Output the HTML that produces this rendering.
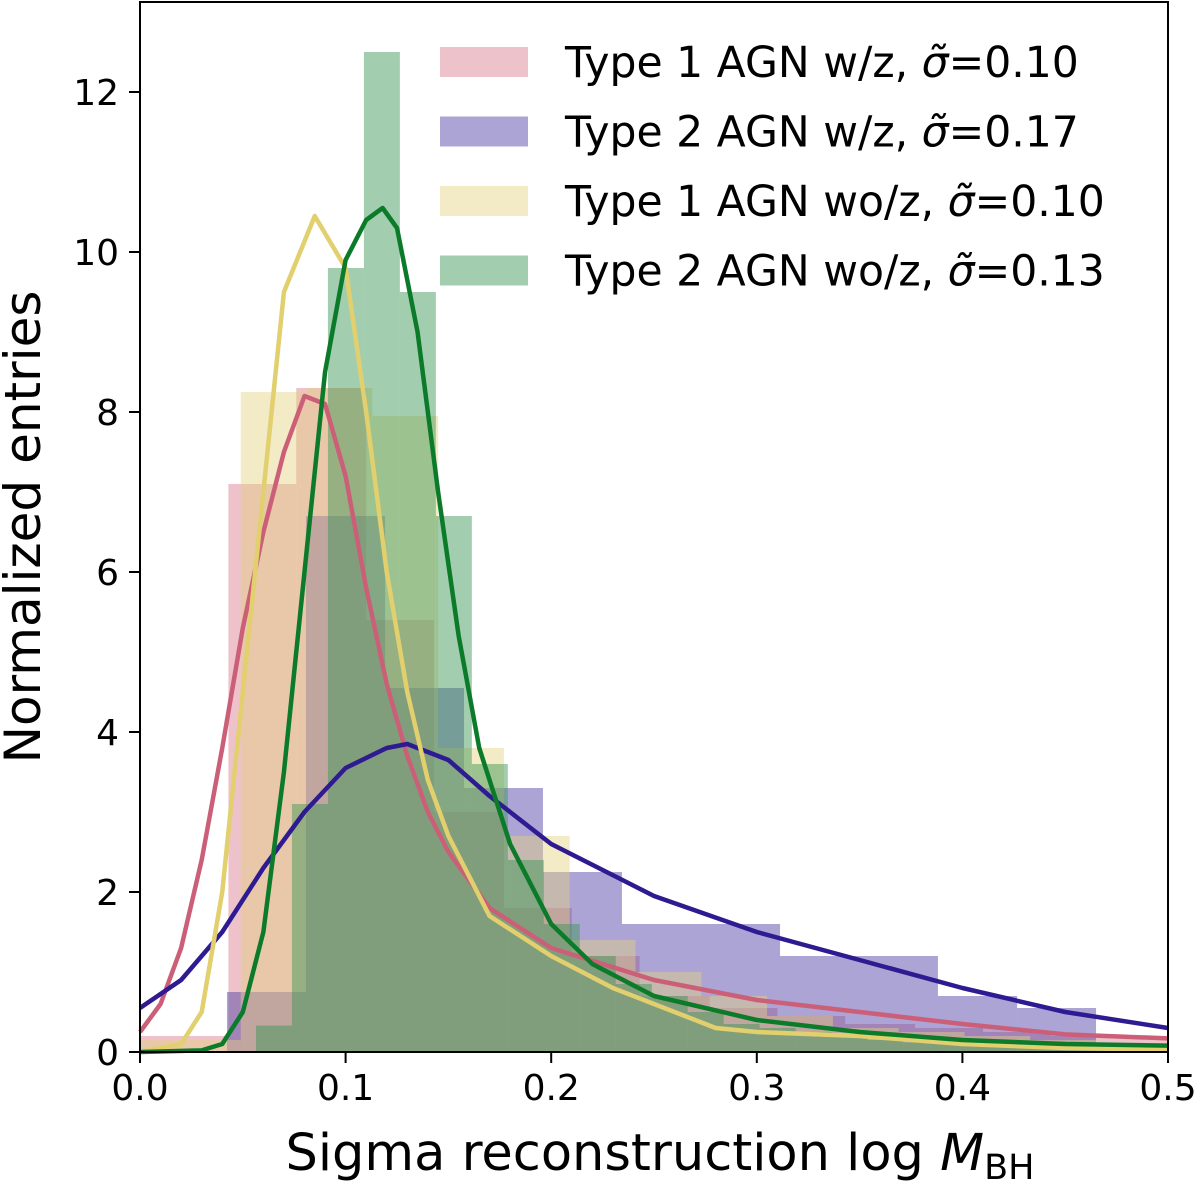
<!DOCTYPE html>
<html><head><meta charset="utf-8"><style>
body{margin:0;background:#fff;}
svg{display:block;font-family:"DejaVu Sans","Liberation Sans",sans-serif;}
</style></head><body>
<svg id="chart" width="1200" height="1185" xmlns="http://www.w3.org/2000/svg">
<g id="bars"></g>
<g id="lines"></g>
<rect x="140" y="2" width="1028" height="1050" fill="none" stroke="#000" stroke-width="2"/>
<g id="axes"></g>
<g id="legend"></g>
<text transform="translate(40,527) rotate(-90)" text-anchor="middle" font-size="50">Normalized entries</text>
<text x="660" y="1170" text-anchor="middle" font-size="51">Sigma reconstruction log <tspan font-style="italic">M</tspan><tspan font-size="35" dy="9">BH</tspan></text>
</svg>
<script>
const xTicks=[0.0,0.1,0.2,0.3,0.4,0.5];
const xTickLabels=["0.0","0.1","0.2","0.3","0.4","0.5"];
const yTicks=[0,2,4,6,8,10,12];
const legendLabels=["Type 1 AGN w/z, ","Type 2 AGN w/z, ","Type 1 AGN wo/z, ","Type 2 AGN wo/z, "];
const legendSigmas=["=0.10","=0.17","=0.10","=0.13"];
// histograms: edges and heights
const t1wzEdges=[0.0,0.043,0.076,0.11,0.143,0.177,0.21,0.243,0.277,0.31,0.343,0.377,0.41,0.443,0.477,0.5];
const t1wzHeights=[0.2,7.1,8.3,5.4,3.0,1.8,1.2,0.7,0.55,0.45,0.35,0.3,0.25,0.2,0.18];
const t2wzEdges=[0.0423,0.0807,0.1192,0.1576,0.196,0.2344,0.2729,0.3113,0.3497,0.3881,0.4266,0.465];
const t2wzHeights=[0.75,6.7,4.55,3.3,2.25,1.6,1.6,1.2,1.2,0.7,0.55];
const t1wozEdges=[0.0,0.049,0.081,0.113,0.145,0.177,0.209,0.241,0.273,0.305,0.337,0.369,0.401,0.433,0.465,0.5];
const t1wozHeights=[0.15,8.25,8.3,7.95,3.8,2.7,1.4,1.0,0.7,0.45,0.3,0.25,0.2,0.15,0.1];
const t2wozEdges=[0.0564,0.0739,0.0914,0.1089,0.1264,0.1439,0.1614,0.1789,0.1964,0.2139,0.2314,0.2489,0.2664,0.2839,0.3014,0.3189,0.3364,0.3539,0.3714,0.3889,0.4064,0.4239,0.4414,0.4589,0.4764,0.5];
const t2wozHeights=[0.33,3.1,9.8,12.5,9.5,6.7,3.6,2.4,1.6,1.2,0.85,0.7,0.5,0.35,0.3,0.25,0.2,0.15,0.12,0.1,0.1,0.08,0.08,0.07,0.07];
// curves
const t1wzCurveX=[0,0.01,0.02,0.03,0.04,0.05,0.06,0.07,0.08,0.09,0.1,0.11,0.12,0.13,0.14,0.15,0.17,0.2,0.25,0.3,0.35,0.4,0.45,0.5];
const t1wzCurveY=[0.25,0.6,1.3,2.4,3.8,5.3,6.5,7.5,8.2,8.1,7.2,5.8,4.6,3.7,3.0,2.5,1.8,1.3,0.9,0.65,0.5,0.35,0.22,0.17];
const t2wzCurveX=[0,0.02,0.04,0.06,0.08,0.1,0.12,0.13,0.15,0.17,0.2,0.25,0.3,0.35,0.4,0.45,0.5];
const t2wzCurveY=[0.55,0.9,1.5,2.3,3.0,3.55,3.8,3.85,3.65,3.2,2.6,1.95,1.5,1.15,0.8,0.5,0.3];
const t1wozCurveX=[0,0.02,0.03,0.04,0.05,0.06,0.07,0.085,0.1,0.11,0.12,0.13,0.14,0.15,0.17,0.2,0.23,0.25,0.28,0.3,0.35,0.4,0.45,0.5];
const t1wozCurveY=[0,0.1,0.5,2,4.5,7,9.5,10.45,9.8,8,6,4.5,3.4,2.7,1.7,1.2,0.8,0.6,0.3,0.25,0.2,0.1,0.05,0.03];
const t2wozCurveX=[0,0.03,0.04,0.05,0.06,0.07,0.08,0.09,0.1,0.11,0.118,0.125,0.135,0.145,0.155,0.165,0.18,0.2,0.22,0.25,0.3,0.35,0.4,0.45,0.5];
const t2wozCurveY=[0,0.02,0.1,0.5,1.5,3.5,6,8.5,9.9,10.4,10.55,10.3,9,7,5.2,3.8,2.6,1.6,1.1,0.7,0.4,0.25,0.15,0.1,0.08];

const NS="http://www.w3.org/2000/svg";
const X=v=>140+v*2056, Y=v=>1052-v*80;
function mk(tag,parent){const e=document.createElementNS(NS,tag);parent.appendChild(e);return e;}
const bars=document.getElementById('bars'), lines=document.getElementById('lines'), axes=document.getElementById('axes'), legend=document.getElementById('legend');
function hist(edges,h,fill,name){
  const g=mk('g',bars);
  
  
  for(let i=0;i<h.length;i++){
    const r=mk('rect',g);
    
    
    r.setAttribute('x',X(edges[i]));r.setAttribute('width',X(edges[i+1])-X(edges[i]));
    r.setAttribute('y',Y(h[i]));r.setAttribute('height',Y(0)-Y(h[i]));
    r.setAttribute('fill',fill);
  }
}
hist(t1wzEdges,t1wzHeights,'rgba(214,120,140,0.45)','hist-type1-wz');
hist(t2wzEdges,t2wzHeights,'rgba(80,65,165,0.48)','hist-type2-wz');
hist(t1wozEdges,t1wozHeights,'rgba(228,208,128,0.45)','hist-type1-woz');
hist(t2wozEdges,t2wozHeights,'rgba(60,150,85,0.48)','hist-type2-woz');
function curve(xs,ys,color,name){
  const p=mk('polyline',lines);
  
  
  p.setAttribute('points',xs.map((x,i)=>X(x)+','+Y(ys[i])).join(' '));
  p.setAttribute('fill','none');p.setAttribute('stroke',color);p.setAttribute('stroke-width','4.5');p.setAttribute('stroke-linejoin','round');
}
curve(t1wzCurveX,t1wzCurveY,'#cc5f78','curve-type1-wz');
curve(t2wzCurveX,t2wzCurveY,'#2e1b91','curve-type2-wz');
curve(t1wozCurveX,t1wozCurveY,'#e2cf6e','curve-type1-woz');
curve(t2wozCurveX,t2wozCurveY,'#0b7b2a','curve-type2-woz');
xTicks.forEach((t,i)=>{
  const l=mk('line',axes);
  
  
  l.setAttribute('x1',X(t));l.setAttribute('x2',X(t));l.setAttribute('y1',1052);l.setAttribute('y2',1063);l.setAttribute('stroke','#000');l.setAttribute('stroke-width','2');
  const tx=mk('text',axes);
  
  
  tx.setAttribute('x',X(t));tx.setAttribute('y',1100);tx.setAttribute('text-anchor','middle');tx.setAttribute('font-size','36');
  tx.textContent=xTickLabels[i];
});
yTicks.forEach(t=>{
  const l=mk('line',axes);
  
  
  l.setAttribute('x1',129);l.setAttribute('x2',140);l.setAttribute('y1',Y(t));l.setAttribute('y2',Y(t));l.setAttribute('stroke','#000');l.setAttribute('stroke-width','2');
  const tx=mk('text',axes);
  
  
  tx.setAttribute('x',119);tx.setAttribute('y',Y(t)+13);tx.setAttribute('text-anchor','end');tx.setAttribute('font-size','36');
  tx.textContent=t;
});
const legendColors=['rgba(214,120,140,0.45)','rgba(80,65,165,0.48)','rgba(228,208,128,0.45)','rgba(60,150,85,0.48)'];
legendLabels.forEach((lab,i)=>{
  const cy=62+i*69.5;
  const r=mk('rect',legend);
  
  
  r.setAttribute('x',440);r.setAttribute('y',cy-15);r.setAttribute('width',88);r.setAttribute('height',30);r.setAttribute('fill',legendColors[i]);
  const tx=mk('text',legend);
  
  
  tx.setAttribute('x',565);tx.setAttribute('y',cy+15);tx.setAttribute('font-size','42.5');
  tx.textContent=lab;
  const s=mk('tspan',tx);
  s.setAttribute('font-style','italic');
  s.textContent='σ̃';
  const v=mk('tspan',tx);
  v.textContent=legendSigmas[i];
});
</script>
</body></html>
